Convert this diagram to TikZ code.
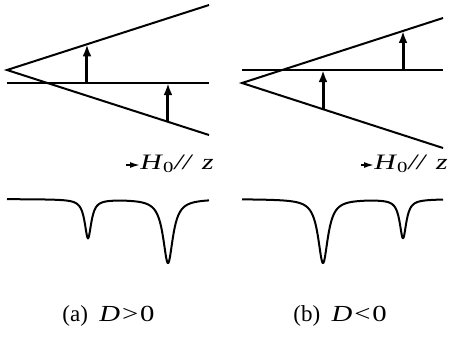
\documentclass[tikz,border=0pt]{standalone}
\usepackage{fontspec}
\setmainfont{Liberation Serif}
\newfontfamily\widefont[FakeStretch=1.25]{Liberation Serif}
\newfontfamily\labelfont[FakeStretch=1.35]{Liberation Serif}
\usetikzlibrary{arrows.meta,calc}

\begin{document}
\begin{tikzpicture}[x=0.5pt,y=-0.5pt,every node/.style={font=\fontsize{11}{13}\selectfont,inner sep=0pt},
  level/.style={line width=1pt},
  trans/.style={-{Latex[length=6pt,width=4.4pt]},line width=1.5pt},
  field/.style={-{Latex[length=5pt,width=3pt]},line width=0.8pt},
  spec/.style={line width=1pt,line join=round}]
\useasboundingbox (0,0) rectangle (454,339);
% (a) D>0
\coordinate (apA) at (7,70); \coordinate (upA) at (209,5); \coordinate (loA) at (209,135);
\coordinate (zsA) at (7,83); \coordinate (zeA) at (209,83);
\draw[level] (upA) -- (apA) -- (loA);
\draw[level] (zsA) -- (zeA);
\coordinate (tA1) at ($(apA)!0.396!(upA)$); \coordinate (tA2) at ($(apA)!0.797!(loA)$);
\draw[trans] (tA1 |- zsA) -- (tA1);
\draw[trans] (tA2) -- (tA2 |- zsA);
\draw[spec] plot[domain=7:209,samples=400] (\x,{199+39*0.16/(((\x-88)/10)^2+0.16)+64*0.36/(((\x-168)/10)^2+0.36)});
\node[anchor=base west,font=\labelfont\fontsize{11}{13}\selectfont] (hA) at (140,169) {\textit{H}\textsubscript{0}\textit{//}\hspace{0.4em}\textit{z}};
\coordinate (fA) at (126,165);
\draw[field] (fA) -- (fA -| hA.west);
\node[anchor=base west,font=\fontsize{11.5}{14}\selectfont] (capA) at (62,321) {(a)\enspace{\widefont\textit{D}\hspace{0.08em}>\hspace{0.08em}0}};
% (b) D<0
\coordinate (apB) at (242,83); \coordinate (upB) at (443,18); \coordinate (loB) at (443,148);
\coordinate (zsB) at (242,70); \coordinate (zeB) at (443,70);
\draw[level] (upB) -- (apB) -- (loB);
\draw[level] (zsB) -- (zeB);
\coordinate (tB1) at ($(apB)!0.403!(loB)$); \coordinate (tB2) at ($(apB)!0.801!(upB)$);
\draw[trans] (tB1) -- (tB1 |- zsB);
\draw[trans] (tB2 |- zsB) -- (tB2);
\draw[spec] plot[domain=242:443,samples=400] (\x,{199+64*0.36/(((\x-323)/10)^2+0.36)+39*0.16/(((\x-403)/10)^2+0.16)});
\node[anchor=base west,font=\labelfont\fontsize{11}{13}\selectfont] (hB) at (374,169) {\textit{H}\textsubscript{0}\textit{//}\hspace{0.4em}\textit{z}};
\coordinate (fB) at (361,165);
\draw[field] (fB) -- (fB -| hB.west);
\node[anchor=base west,font=\fontsize{11.5}{14}\selectfont] (capB) at (293,321) {(b)\enspace{\widefont\textit{D}\hspace{0.08em}<\hspace{0.08em}0}};
\end{tikzpicture}
\end{document}
